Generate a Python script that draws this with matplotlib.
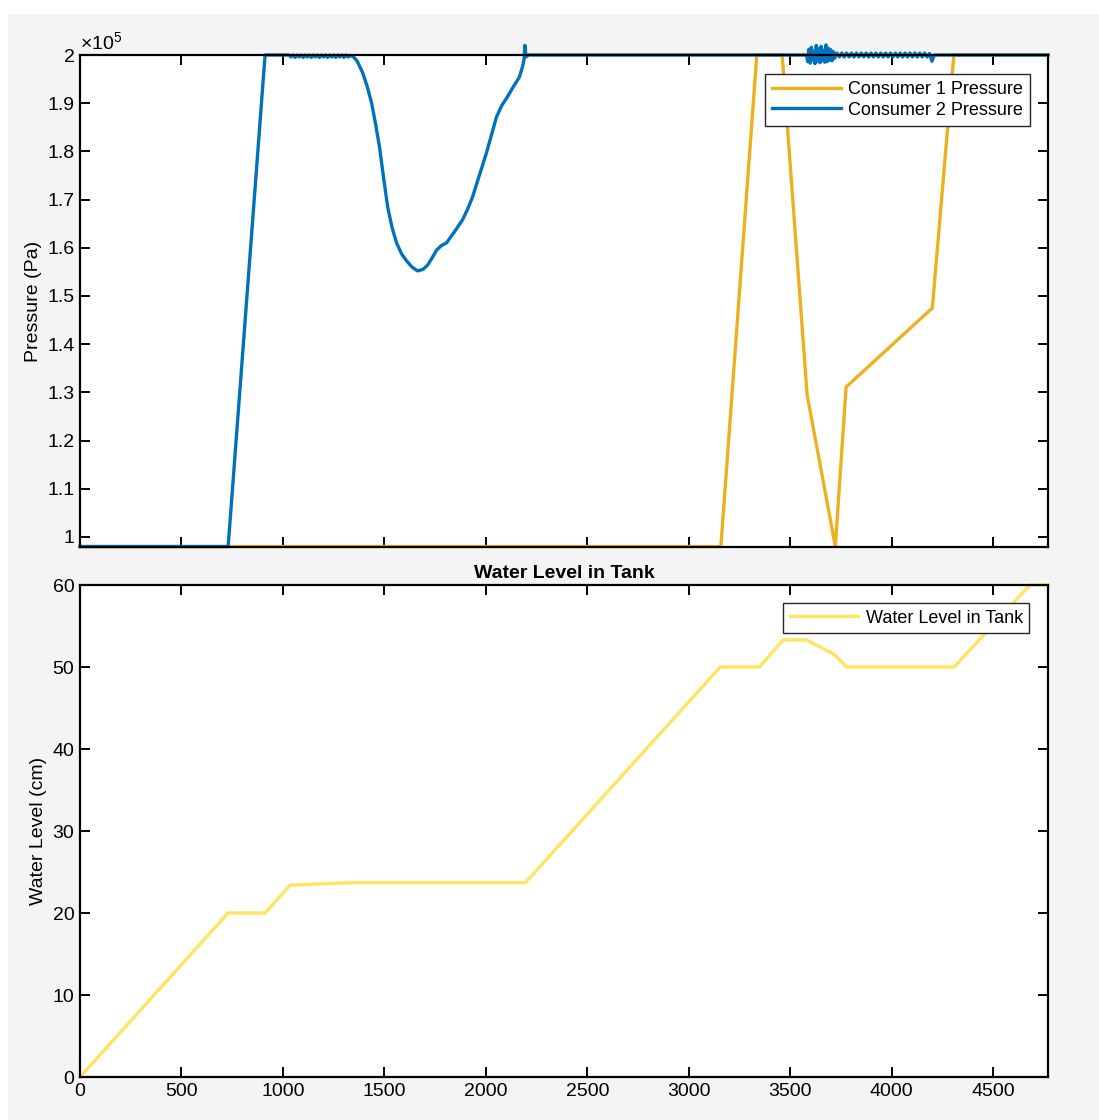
import numpy as np
import matplotlib
matplotlib.use('Agg')
import matplotlib.pyplot as plt
from matplotlib.patches import Rectangle
from matplotlib.ticker import FuncFormatter

plt.rcParams['font.family'] = ['Liberation Sans', 'DejaVu Sans']
plt.rcParams['mathtext.fontset'] = 'custom'
plt.rcParams['mathtext.rm'] = 'Liberation Sans'

# consumer 1 pressure (Pa)
c1_t = [0, 3158, 3335, 3460, 3583, 3722, 3775, 4200, 4306, 4770]
c1_p = [98000, 98000, 200000, 200000, 129500, 98000, 131100, 147500, 200000, 200000]

# consumer 2 pressure (Pa)
c2_t_start = [0, 730, 912, 1030]
c2_p_start = [98000, 98000, 200000, 200000]

c2_t_fuzz = [1040, 1050, 1060, 1070, 1080, 1090, 1100, 1110, 1120, 1130,
             1140, 1150, 1160, 1170, 1180, 1190, 1200, 1210, 1220, 1230,
             1240, 1250, 1260, 1270, 1280, 1290, 1300, 1310, 1320, 1330]
c2_p_fuzz = [199600, 200000, 199500, 200000, 199600, 200000, 199500, 200000, 199600, 200000,
             199500, 200000, 199600, 200000, 199500, 200000, 199600, 200000, 199500, 200000,
             199600, 200000, 199500, 200000, 199600, 200000, 199500, 200000, 199600, 199800]

c2_t_dip = [1343, 1365, 1393, 1415, 1437, 1456, 1476, 1496, 1516, 1537,
            1560, 1585, 1609, 1636, 1663, 1690, 1713, 1735, 1757, 1782,
            1806, 1845, 1885, 1910, 1934, 1968, 2003, 2028, 2052, 2078,
            2106, 2135, 2165, 2180, 2188, 2192, 2198, 2210]
c2_p_dip = [199800, 198800, 196300, 193500, 190000, 185800, 180900, 174500, 168500, 164300,
            161000, 158700, 157300, 156000, 155200, 155500, 156400, 157900, 159500, 160500,
            161000, 163300, 165800, 168000, 170500, 175000, 179700, 183500, 187100, 189500,
            191300, 193400, 195400, 197500, 199000, 202000, 199600, 200000]

c2_t_big = [3580, 3586, 3592, 3598, 3604, 3610, 3616, 3622, 3628, 3634, 3640, 3646,
            3652, 3658, 3664, 3670, 3676, 3682, 3688, 3694, 3700, 3706, 3712, 3718]
c2_p_big = [200000, 198600, 201200, 198300, 201600, 198900, 200800, 198200, 202000, 198700,
            201300, 198400, 201800, 198800, 201000, 198500, 202100, 198600, 201400, 198900,
            201100, 198800, 200700, 199300]

c2_t_small = [3730, 3742, 3754, 3766, 3778, 3790, 3802, 3814, 3826, 3838,
              3850, 3862, 3874, 3886, 3898, 3910, 3922, 3934, 3946, 3958,
              3970, 3982, 3994, 4006, 4018, 4030, 4042, 4054, 4066, 4078,
              4090, 4102, 4114, 4126, 4138, 4150, 4162, 4174, 4186, 4198]
c2_p_small = [200400, 199600, 200400, 199600, 200400, 199600, 200400, 199600, 200400, 199600,
              200400, 199600, 200400, 199600, 200400, 199600, 200400, 199600, 200400, 199600,
              200400, 199600, 200400, 199600, 200400, 199600, 200400, 199600, 200400, 199600,
              200400, 199600, 200400, 199600, 200400, 199600, 200400, 199600, 200300, 198700]

c2_t_end = [4210, 4770]
c2_p_end = [200000, 200000]

# water level (cm)
wl_t = [0, 730, 912, 1035, 1340, 2195, 3155, 3348, 3465, 3580, 3718, 3778, 4308, 4680, 4770]
wl_h = [0, 20, 20, 23.4, 23.7, 23.7, 50, 50, 53.3, 53.3, 51.5, 50, 50, 60, 60]

c2_t = c2_t_start + c2_t_fuzz + c2_t_dip + c2_t_big + c2_t_small + c2_t_end
c2_p = c2_p_start + c2_p_fuzz + c2_p_dip + c2_p_big + c2_p_small + c2_p_end

W, H = 1099, 1120
fig = plt.figure(figsize=(W / 100, H / 100), dpi=100, facecolor='white')
fig.patches.append(Rectangle((8 / W, 0), 1 - 8 / W, (H - 14) / H,
                             transform=fig.transFigure, facecolor='#f4f4f4',
                             edgecolor='none', zorder=-10))

ax1 = fig.add_axes([80 / W, (H - 547) / H, 968 / W, 492 / H])
ax2 = fig.add_axes([80 / W, (H - 1077) / H, 968 / W, 492 / H])

xticks = [0, 500, 1000, 1500, 2000, 2500, 3000, 3500, 4000, 4500]
fs = 14

ax1.plot(c1_t, c1_p, color='#EDB120', lw=2.4, label='Consumer 1 Pressure', clip_on=False)
ax1.plot(c2_t, c2_p, color='#0072BD', lw=2.4, label='Consumer 2 Pressure', clip_on=False)
ax1.set_xlim(0, 4770)
ax1.set_ylim(97900, 200000)
ax1.set_xticks(xticks)
ax1.set_xticklabels([])
ax1.set_yticks([100000 + 10000 * i for i in range(11)])
ax1.yaxis.set_major_formatter(FuncFormatter(lambda v, p: '%g' % round(v / 1e5, 2)))
ax1.set_ylabel('Pressure (Pa)', fontsize=fs)
ax1.text(0, 1.004, r'$\times\mathregular{10^{5}}$', transform=ax1.transAxes,
         fontsize=fs, ha='left', va='bottom')
leg1 = ax1.legend(loc='upper right', bbox_to_anchor=(0.9815, 0.962), fontsize=13,
                  fancybox=False, edgecolor='#262626', framealpha=1,
                  handlelength=3.8, borderpad=0.4, labelspacing=0.2,
                  handletextpad=0.4, borderaxespad=0)
leg1.get_frame().set_linewidth(1.0)

ax2.plot(wl_t, wl_h, color='#FFE45E', lw=2.4, label='Water Level in Tank', clip_on=False)
ax2.set_xlim(0, 4770)
ax2.set_ylim(0, 60)
ax2.set_xticks(xticks)
ax2.set_yticks([0, 10, 20, 30, 40, 50, 60])
ax2.set_ylabel('Water Level (cm)', fontsize=fs)
ax2.set_title('Water Level in Tank', fontsize=fs, fontweight='bold', pad=5)
leg2 = ax2.legend(loc='upper right', bbox_to_anchor=(0.9805, 0.963), fontsize=13,
                  fancybox=False, edgecolor='#262626', framealpha=1,
                  handlelength=3.8, borderpad=0.35, handletextpad=0.4,
                  borderaxespad=0)
leg2.get_frame().set_linewidth(1.0)

for ax in (ax1, ax2):
    ax.set_facecolor('white')
    for s in ax.spines.values():
        s.set_linewidth(1.6)
        s.set_color('black')
    ax.tick_params(direction='in', length=7.5, width=1.4, top=True, right=True,
                   labelsize=fs, pad=4, colors='black')

fig.savefig('out.png', dpi=100, facecolor=fig.get_facecolor())
